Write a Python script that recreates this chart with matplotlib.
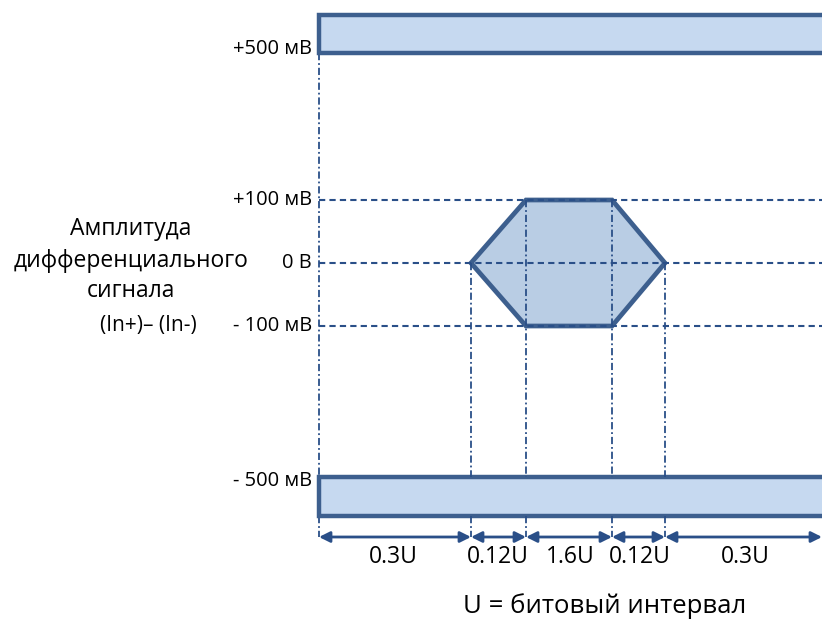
import matplotlib
matplotlib.use("Agg")
import matplotlib.pyplot as plt
from matplotlib.patches import Rectangle, Polygon, FancyArrowPatch

# ---- data (labels) ----
level_labels = ['+500 мВ', '+100 мВ', '0 В', '- 100 мВ', '- 500 мВ']
interval_labels = ['0.3U', '0.12U', '1.6U', '0.12U', '0.3U']
axis_title = ['Амплитуда', 'дифференциального', 'сигнала']
axis_sub = '(In+)– (In-)'
footnote = 'U = битовый интервал'

# ---- layout (pixel positions of diagram) ----
level_y = [49, 200, 263, 326, 481]          # label positions
grid_y = [200, 263, 326]                     # dashed lines
x_bounds = [319, 471, 526, 612, 665, 822]    # interval boundaries
label_x = [393, 498, 570, 640, 745]
top_bar = (15, 53)
bot_bar = (477, 516)
arrow_y = 537

EDGE = '#3d5f8e'
LINE = '#2a4f88'
BAR_FILL = '#c6d9f0'
HEX_FILL = '#b9cde4'

plt.rcParams['font.family'] = ['Open Sans', 'DejaVu Sans']

fig = plt.figure(figsize=(8.22, 6.37), dpi=100)
ax = fig.add_axes([0, 0, 1, 1])
ax.set_xlim(0, 822)
ax.set_ylim(637, 0)
ax.axis('off')

# dashed horizontal grid lines
for y in grid_y:
    ax.plot([x_bounds[0], 822], [y, y], color=LINE, lw=1.5, ls=(0, (3, 2)), zorder=3)

# vertical dash-dot lines
dd = (0, (4, 1.6, 1, 1.6))
ax.plot([x_bounds[0], x_bounds[0]], [top_bar[1], bot_bar[0]], color=LINE, lw=1.3, ls=dd, zorder=1)
ax.plot([x_bounds[0], x_bounds[0]], [bot_bar[1], arrow_y], color=LINE, lw=1.3, ls=dd, zorder=1)
v_start = [263, 200, 200, 263]
for x, y0 in zip(x_bounds[1:5], v_start):
    ax.plot([x, x], [y0, bot_bar[0]], color=LINE, lw=1.3, ls=dd, zorder=3)
    ax.plot([x, x], [bot_bar[1], arrow_y], color=LINE, lw=1.3, ls=dd, zorder=3)

# bars
for (y0, y1) in (top_bar, bot_bar):
    ax.add_patch(Rectangle((x_bounds[0], y0), 600, y1 - y0, facecolor=BAR_FILL,
                           edgecolor=EDGE, lw=3.2, zorder=2))

# hexagon eye
hx = [x_bounds[1], x_bounds[2], x_bounds[3], x_bounds[4], x_bounds[3], x_bounds[2]]
hy = [263, 200, 200, 263, 326, 326]
ax.add_patch(Polygon(list(zip(hx, hy)), closed=True, facecolor=HEX_FILL,
                     edgecolor=EDGE, lw=3.4, joinstyle='miter', zorder=2))

# dimension arrows
for i in range(5):
    a = FancyArrowPatch((x_bounds[i], arrow_y), (x_bounds[i + 1], arrow_y),
                        arrowstyle='<|-|>', mutation_scale=16, color=LINE,
                        lw=2.0, shrinkA=0, shrinkB=0, zorder=4)
    ax.add_patch(a)
    ax.text(label_x[i], 557, interval_labels[i], ha='center', va='center',
            fontsize=16.5, color='black')

# level labels
for lab, y in zip(level_labels, level_y):
    ax.text(312, y, lab, ha='right', va='center', fontsize=14.5, color='black')

# axis title
for txt, y in zip(axis_title, [229, 261, 291]):
    ax.text(131, y, txt, ha='center', va='center', fontsize=16.5, color='black')
ax.text(148, 325, axis_sub, ha='center', va='center', fontsize=15, color='black')

ax.text(605, 606, footnote, ha='center', va='center', fontsize=18.5, color='black')

fig.savefig('out.png', dpi=100)
